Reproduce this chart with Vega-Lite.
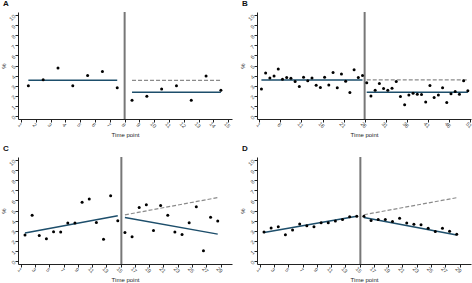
{
  "$schema": "https://vega.github.io/schema/vega-lite/v6.json",
  "background": "white",
  "padding": {"left": 0, "top": 0, "right": 0, "bottom": 0},
  "config": {
    "font": "Liberation Sans",
    "view": {"stroke": null},
    "axis": {
      "grid": false,
      "domainColor": "#222222",
      "domainWidth": 1,
      "tickColor": "#222222",
      "tickSize": 3,
      "tickWidth": 1,
      "labelFontSize": 5.5,
      "labelColor": "#444444",
      "labelPadding": 1,
      "labelOverlap": false,
      "labelFlush": false,
      "labelBound": false,
      "titleFontSize": 6,
      "titleFontWeight": "normal",
      "titleColor": "#222222",
      "titlePadding": 2
    },
    "title": {"fontSize": 8, "fontWeight": "bold", "color": "#111111", "frame": "group", "anchor": "start", "dx": -15, "offset": 3}
  },
  "datasets": {
    "pts": [
      {"panel": "A", "t": 1.5, "y": 3.0}, {"panel": "A", "t": 2.5, "y": 3.6}, {"panel": "A", "t": 3.5, "y": 4.75},
      {"panel": "A", "t": 4.5, "y": 3.0}, {"panel": "A", "t": 5.5, "y": 4.0}, {"panel": "A", "t": 6.5, "y": 4.4},
      {"panel": "A", "t": 7.5, "y": 2.8},
      {"panel": "A", "t": 8.5, "y": 1.55}, {"panel": "A", "t": 9.5, "y": 1.95}, {"panel": "A", "t": 10.5, "y": 2.67},
      {"panel": "A", "t": 11.5, "y": 3.0}, {"panel": "A", "t": 12.5, "y": 1.55}, {"panel": "A", "t": 13.5, "y": 3.96},
      {"panel": "A", "t": 14.5, "y": 2.54},

      {"panel": "B", "t": 1.5, "y": 2.66}, {"panel": "B", "t": 2.5, "y": 4.26}, {"panel": "B", "t": 3.5, "y": 3.77},
      {"panel": "B", "t": 4.5, "y": 3.97}, {"panel": "B", "t": 5.5, "y": 4.66}, {"panel": "B", "t": 6.5, "y": 3.64},
      {"panel": "B", "t": 7.5, "y": 3.8}, {"panel": "B", "t": 8.5, "y": 3.74}, {"panel": "B", "t": 9.5, "y": 3.41},
      {"panel": "B", "t": 10.5, "y": 2.92}, {"panel": "B", "t": 11.5, "y": 3.84}, {"panel": "B", "t": 12.5, "y": 3.48},
      {"panel": "B", "t": 13.5, "y": 3.77}, {"panel": "B", "t": 14.5, "y": 3.05}, {"panel": "B", "t": 15.5, "y": 2.82},
      {"panel": "B", "t": 16.5, "y": 3.84}, {"panel": "B", "t": 17.5, "y": 3.08}, {"panel": "B", "t": 18.5, "y": 4.3},
      {"panel": "B", "t": 19.5, "y": 2.79}, {"panel": "B", "t": 20.5, "y": 4.16}, {"panel": "B", "t": 21.5, "y": 3.44},
      {"panel": "B", "t": 22.5, "y": 2.33}, {"panel": "B", "t": 23.5, "y": 4.59}, {"panel": "B", "t": 24.5, "y": 3.8},
      {"panel": "B", "t": 25.5, "y": 4.0},
      {"panel": "B", "t": 26.5, "y": 3.28}, {"panel": "B", "t": 27.5, "y": 1.97}, {"panel": "B", "t": 28.5, "y": 2.56},
      {"panel": "B", "t": 29.5, "y": 3.21}, {"panel": "B", "t": 30.5, "y": 2.72}, {"panel": "B", "t": 31.5, "y": 2.56},
      {"panel": "B", "t": 32.5, "y": 2.75}, {"panel": "B", "t": 33.5, "y": 3.41}, {"panel": "B", "t": 34.5, "y": 1.93},
      {"panel": "B", "t": 35.5, "y": 1.11}, {"panel": "B", "t": 36.5, "y": 2.07}, {"panel": "B", "t": 37.5, "y": 2.26},
      {"panel": "B", "t": 38.5, "y": 2.16}, {"panel": "B", "t": 39.5, "y": 2.13}, {"panel": "B", "t": 40.5, "y": 1.38},
      {"panel": "B", "t": 41.5, "y": 3.02}, {"panel": "B", "t": 42.5, "y": 1.84}, {"panel": "B", "t": 43.5, "y": 2.07},
      {"panel": "B", "t": 44.5, "y": 2.79}, {"panel": "B", "t": 45.5, "y": 1.34}, {"panel": "B", "t": 46.5, "y": 2.2},
      {"panel": "B", "t": 47.5, "y": 2.43}, {"panel": "B", "t": 48.5, "y": 2.16}, {"panel": "B", "t": 49.5, "y": 3.48},
      {"panel": "B", "t": 50.5, "y": 2.49},

      {"panel": "C", "t": 1.6, "y": 2.57}, {"panel": "C", "t": 2.6, "y": 4.54}, {"panel": "C", "t": 3.6, "y": 2.53},
      {"panel": "C", "t": 4.6, "y": 2.2}, {"panel": "C", "t": 5.6, "y": 2.89}, {"panel": "C", "t": 6.6, "y": 2.86},
      {"panel": "C", "t": 7.6, "y": 3.75}, {"panel": "C", "t": 8.6, "y": 3.75}, {"panel": "C", "t": 9.6, "y": 5.82},
      {"panel": "C", "t": 10.6, "y": 6.15}, {"panel": "C", "t": 11.6, "y": 3.82}, {"panel": "C", "t": 12.6, "y": 2.14},
      {"panel": "C", "t": 13.6, "y": 6.45}, {"panel": "C", "t": 14.6, "y": 3.98},
      {"panel": "C", "t": 15.6, "y": 2.83}, {"panel": "C", "t": 16.6, "y": 2.4}, {"panel": "C", "t": 17.6, "y": 5.3},
      {"panel": "C", "t": 18.6, "y": 5.56}, {"panel": "C", "t": 19.6, "y": 3.03}, {"panel": "C", "t": 20.6, "y": 5.49},
      {"panel": "C", "t": 21.6, "y": 4.54}, {"panel": "C", "t": 22.6, "y": 2.86}, {"panel": "C", "t": 23.6, "y": 2.63},
      {"panel": "C", "t": 24.6, "y": 3.78}, {"panel": "C", "t": 25.6, "y": 5.36}, {"panel": "C", "t": 26.6, "y": 1.02},
      {"panel": "C", "t": 27.6, "y": 4.34}, {"panel": "C", "t": 28.6, "y": 3.95},

      {"panel": "D", "t": 1.6, "y": 2.88}, {"panel": "D", "t": 2.6, "y": 3.27}, {"panel": "D", "t": 3.6, "y": 3.4},
      {"panel": "D", "t": 4.6, "y": 2.61}, {"panel": "D", "t": 5.6, "y": 3.07}, {"panel": "D", "t": 6.6, "y": 3.66},
      {"panel": "D", "t": 7.6, "y": 3.5}, {"panel": "D", "t": 8.6, "y": 3.4}, {"panel": "D", "t": 9.6, "y": 3.79},
      {"panel": "D", "t": 10.6, "y": 3.79}, {"panel": "D", "t": 11.6, "y": 3.95}, {"panel": "D", "t": 12.6, "y": 4.12},
      {"panel": "D", "t": 13.6, "y": 4.38}, {"panel": "D", "t": 14.6, "y": 4.44},
      {"panel": "D", "t": 15.6, "y": 4.44}, {"panel": "D", "t": 16.6, "y": 4.02}, {"panel": "D", "t": 17.6, "y": 4.12},
      {"panel": "D", "t": 18.6, "y": 4.12}, {"panel": "D", "t": 19.6, "y": 3.92}, {"panel": "D", "t": 20.6, "y": 4.22},
      {"panel": "D", "t": 21.6, "y": 3.76}, {"panel": "D", "t": 22.6, "y": 3.63}, {"panel": "D", "t": 23.6, "y": 3.59},
      {"panel": "D", "t": 24.6, "y": 3.24}, {"panel": "D", "t": 25.6, "y": 2.91}, {"panel": "D", "t": 26.6, "y": 3.24},
      {"panel": "D", "t": 27.6, "y": 2.94}, {"panel": "D", "t": 28.6, "y": 2.65}
    ],
    "fits": [
      {"panel": "A", "seg": "pre", "kind": "fit", "t": 1.5, "y": 3.53}, {"panel": "A", "seg": "pre", "kind": "fit", "t": 7.5, "y": 3.53},
      {"panel": "A", "seg": "post", "kind": "fit", "t": 8.5, "y": 2.34}, {"panel": "A", "seg": "post", "kind": "fit", "t": 14.5, "y": 2.34},
      {"panel": "A", "seg": "cf", "kind": "counterfactual", "t": 8.5, "y": 3.53}, {"panel": "A", "seg": "cf", "kind": "counterfactual", "t": 14.5, "y": 3.53},

      {"panel": "B", "seg": "pre", "kind": "fit", "t": 1.5, "y": 3.57}, {"panel": "B", "seg": "pre", "kind": "fit", "t": 25.5, "y": 3.57},
      {"panel": "B", "seg": "post", "kind": "fit", "t": 26.5, "y": 2.36}, {"panel": "B", "seg": "post", "kind": "fit", "t": 50.5, "y": 2.36},
      {"panel": "B", "seg": "cf", "kind": "counterfactual", "t": 26.5, "y": 3.57}, {"panel": "B", "seg": "cf", "kind": "counterfactual", "t": 50.5, "y": 3.57},

      {"panel": "C", "seg": "pre", "kind": "fit", "t": 1.6, "y": 2.76}, {"panel": "C", "seg": "pre", "kind": "fit", "t": 14.6, "y": 4.47},
      {"panel": "C", "seg": "post", "kind": "fit", "t": 15.6, "y": 4.31}, {"panel": "C", "seg": "post", "kind": "fit", "t": 28.6, "y": 2.66},
      {"panel": "C", "seg": "cf", "kind": "counterfactual", "t": 15.6, "y": 4.57}, {"panel": "C", "seg": "cf", "kind": "counterfactual", "t": 28.6, "y": 6.28},

      {"panel": "D", "seg": "pre", "kind": "fit", "t": 1.6, "y": 2.81}, {"panel": "D", "seg": "pre", "kind": "fit", "t": 14.6, "y": 4.44},
      {"panel": "D", "seg": "post", "kind": "fit", "t": 15.6, "y": 4.31}, {"panel": "D", "seg": "post", "kind": "fit", "t": 28.6, "y": 2.58},
      {"panel": "D", "seg": "cf", "kind": "counterfactual", "t": 15.6, "y": 4.58}, {"panel": "D", "seg": "cf", "kind": "counterfactual", "t": 28.6, "y": 6.27}
    ],
    "breaks": [
      {"panel": "A", "t": 8},
      {"panel": "B", "t": 26},
      {"panel": "C", "t": 15.1},
      {"panel": "D", "t": 15.1}
    ]
  },
  "columns": 2,
  "bounds": "flush",
  "spacing": {"row": 38, "column": 25},
  "concat": [
    {
      "width": 214, "height": 107,
      "title": {"text": "A"},
      "encoding": {
        "x": {"field": "t", "type": "quantitative", "scale": {"domain": [0.8, 15.25], "nice": false, "zero": false},
              "axis": {"title": "Time point", "values": [1,2,3,4,5,6,7,8,9,10,11,12,13,14,15], "labelAngle": 45, "labelAlign": "center", "labelBaseline": "top"}}
      },
      "layer": [
        {"data": {"name": "breaks"}, "transform": [{"filter": "datum.panel === 'A'"}],
         "mark": {"type": "rule", "color": "#777777", "strokeWidth": 2}, "encoding": {}},
        {"data": {"name": "fits"}, "transform": [{"filter": "datum.panel === 'A' && datum.kind === 'counterfactual'"}],
         "mark": {"type": "line", "color": "#8a8a8a", "strokeWidth": 1.2, "strokeDash": [4, 2]},
         "encoding": {"y": {"field": "y", "type": "quantitative", "scale": {"domain": [-0.3, 10.3], "nice": false, "zero": false},
                            "axis": {"title": "%", "values": [0,1,2,3,4,5,6,7,8,9,10], "labelAngle": -45, "labelAlign": "right", "labelBaseline": "middle"}},
                      "detail": {"field": "seg"}}},
        {"data": {"name": "fits"}, "transform": [{"filter": "datum.panel === 'A' && datum.kind === 'fit'"}],
         "mark": {"type": "line", "color": "#1d4e6b", "strokeWidth": 1.5},
         "encoding": {"y": {"field": "y", "type": "quantitative", "scale": {"domain": [-0.3, 10.3], "nice": false, "zero": false},
                            "axis": {"title": "%", "values": [0,1,2,3,4,5,6,7,8,9,10], "labelAngle": -45, "labelAlign": "right", "labelBaseline": "middle"}},
                      "detail": {"field": "seg"}}},
        {"data": {"name": "pts"}, "transform": [{"filter": "datum.panel === 'A'"}],
         "mark": {"type": "point", "filled": true, "color": "#000000", "size": 9, "opacity": 1},
         "encoding": {"y": {"field": "y", "type": "quantitative", "scale": {"domain": [-0.3, 10.3], "nice": false, "zero": false},
                            "axis": {"title": "%", "values": [0,1,2,3,4,5,6,7,8,9,10], "labelAngle": -45, "labelAlign": "right", "labelBaseline": "middle"}}}}
      ]
    },
    {
      "width": 214, "height": 107,
      "title": {"text": "B"},
      "encoding": {
        "x": {"field": "t", "type": "quantitative", "scale": {"domain": [0.45, 51.25], "nice": false, "zero": false},
              "axis": {"title": "Time point", "values": [1,6,11,16,21,26,31,36,41,46,51], "labelAngle": 45, "labelAlign": "center", "labelBaseline": "top"}}
      },
      "layer": [
        {"data": {"name": "breaks"}, "transform": [{"filter": "datum.panel === 'B'"}],
         "mark": {"type": "rule", "color": "#777777", "strokeWidth": 2}, "encoding": {}},
        {"data": {"name": "fits"}, "transform": [{"filter": "datum.panel === 'B' && datum.kind === 'counterfactual'"}],
         "mark": {"type": "line", "color": "#8a8a8a", "strokeWidth": 1.2, "strokeDash": [4, 2]},
         "encoding": {"y": {"field": "y", "type": "quantitative", "scale": {"domain": [-0.3, 10.3], "nice": false, "zero": false},
                            "axis": {"title": "%", "values": [0,1,2,3,4,5,6,7,8,9,10], "labelAngle": -45, "labelAlign": "right", "labelBaseline": "middle"}},
                      "detail": {"field": "seg"}}},
        {"data": {"name": "fits"}, "transform": [{"filter": "datum.panel === 'B' && datum.kind === 'fit'"}],
         "mark": {"type": "line", "color": "#1d4e6b", "strokeWidth": 1.5},
         "encoding": {"y": {"field": "y", "type": "quantitative", "scale": {"domain": [-0.3, 10.3], "nice": false, "zero": false},
                            "axis": {"title": "%", "values": [0,1,2,3,4,5,6,7,8,9,10], "labelAngle": -45, "labelAlign": "right", "labelBaseline": "middle"}},
                      "detail": {"field": "seg"}}},
        {"data": {"name": "pts"}, "transform": [{"filter": "datum.panel === 'B'"}],
         "mark": {"type": "point", "filled": true, "color": "#000000", "size": 9, "opacity": 1},
         "encoding": {"y": {"field": "y", "type": "quantitative", "scale": {"domain": [-0.3, 10.3], "nice": false, "zero": false},
                            "axis": {"title": "%", "values": [0,1,2,3,4,5,6,7,8,9,10], "labelAngle": -45, "labelAlign": "right", "labelBaseline": "middle"}}}}
      ]
    },
    {
      "width": 214, "height": 107,
      "title": {"text": "C"},
      "encoding": {
        "x": {"field": "t", "type": "quantitative", "scale": {"domain": [0.62, 30.6], "nice": false, "zero": false},
              "axis": {"title": "Time point", "values": [1,3,5,7,9,11,13,15,17,19,21,23,25,27,29], "labelAngle": 45, "labelAlign": "center", "labelBaseline": "top"}}
      },
      "layer": [
        {"data": {"name": "breaks"}, "transform": [{"filter": "datum.panel === 'C'"}],
         "mark": {"type": "rule", "color": "#777777", "strokeWidth": 2}, "encoding": {}},
        {"data": {"name": "fits"}, "transform": [{"filter": "datum.panel === 'C' && datum.kind === 'counterfactual'"}],
         "mark": {"type": "line", "color": "#8a8a8a", "strokeWidth": 1.2, "strokeDash": [4, 2]},
         "encoding": {"y": {"field": "y", "type": "quantitative", "scale": {"domain": [-0.3, 10.3], "nice": false, "zero": false},
                            "axis": {"title": "%", "values": [0,1,2,3,4,5,6,7,8,9,10], "labelAngle": -45, "labelAlign": "right", "labelBaseline": "middle"}},
                      "detail": {"field": "seg"}}},
        {"data": {"name": "fits"}, "transform": [{"filter": "datum.panel === 'C' && datum.kind === 'fit'"}],
         "mark": {"type": "line", "color": "#1d4e6b", "strokeWidth": 1.5},
         "encoding": {"y": {"field": "y", "type": "quantitative", "scale": {"domain": [-0.3, 10.3], "nice": false, "zero": false},
                            "axis": {"title": "%", "values": [0,1,2,3,4,5,6,7,8,9,10], "labelAngle": -45, "labelAlign": "right", "labelBaseline": "middle"}},
                      "detail": {"field": "seg"}}},
        {"data": {"name": "pts"}, "transform": [{"filter": "datum.panel === 'C'"}],
         "mark": {"type": "point", "filled": true, "color": "#000000", "size": 9, "opacity": 1},
         "encoding": {"y": {"field": "y", "type": "quantitative", "scale": {"domain": [-0.3, 10.3], "nice": false, "zero": false},
                            "axis": {"title": "%", "values": [0,1,2,3,4,5,6,7,8,9,10], "labelAngle": -45, "labelAlign": "right", "labelBaseline": "middle"}}}}
      ]
    },
    {
      "width": 214, "height": 107,
      "title": {"text": "D"},
      "encoding": {
        "x": {"field": "t", "type": "quantitative", "scale": {"domain": [0.62, 30.6], "nice": false, "zero": false},
              "axis": {"title": "Time point", "values": [1,3,5,7,9,11,13,15,17,19,21,23,25,27,29], "labelAngle": 45, "labelAlign": "center", "labelBaseline": "top"}}
      },
      "layer": [
        {"data": {"name": "breaks"}, "transform": [{"filter": "datum.panel === 'D'"}],
         "mark": {"type": "rule", "color": "#777777", "strokeWidth": 2}, "encoding": {}},
        {"data": {"name": "fits"}, "transform": [{"filter": "datum.panel === 'D' && datum.kind === 'counterfactual'"}],
         "mark": {"type": "line", "color": "#8a8a8a", "strokeWidth": 1.2, "strokeDash": [4, 2]},
         "encoding": {"y": {"field": "y", "type": "quantitative", "scale": {"domain": [-0.3, 10.3], "nice": false, "zero": false},
                            "axis": {"title": "%", "values": [0,1,2,3,4,5,6,7,8,9,10], "labelAngle": -45, "labelAlign": "right", "labelBaseline": "middle"}},
                      "detail": {"field": "seg"}}},
        {"data": {"name": "fits"}, "transform": [{"filter": "datum.panel === 'D' && datum.kind === 'fit'"}],
         "mark": {"type": "line", "color": "#1d4e6b", "strokeWidth": 1.5},
         "encoding": {"y": {"field": "y", "type": "quantitative", "scale": {"domain": [-0.3, 10.3], "nice": false, "zero": false},
                            "axis": {"title": "%", "values": [0,1,2,3,4,5,6,7,8,9,10], "labelAngle": -45, "labelAlign": "right", "labelBaseline": "middle"}},
                      "detail": {"field": "seg"}}},
        {"data": {"name": "pts"}, "transform": [{"filter": "datum.panel === 'D'"}],
         "mark": {"type": "point", "filled": true, "color": "#000000", "size": 9, "opacity": 1},
         "encoding": {"y": {"field": "y", "type": "quantitative", "scale": {"domain": [-0.3, 10.3], "nice": false, "zero": false},
                            "axis": {"title": "%", "values": [0,1,2,3,4,5,6,7,8,9,10], "labelAngle": -45, "labelAlign": "right", "labelBaseline": "middle"}}}}
      ]
    }
  ]
}
